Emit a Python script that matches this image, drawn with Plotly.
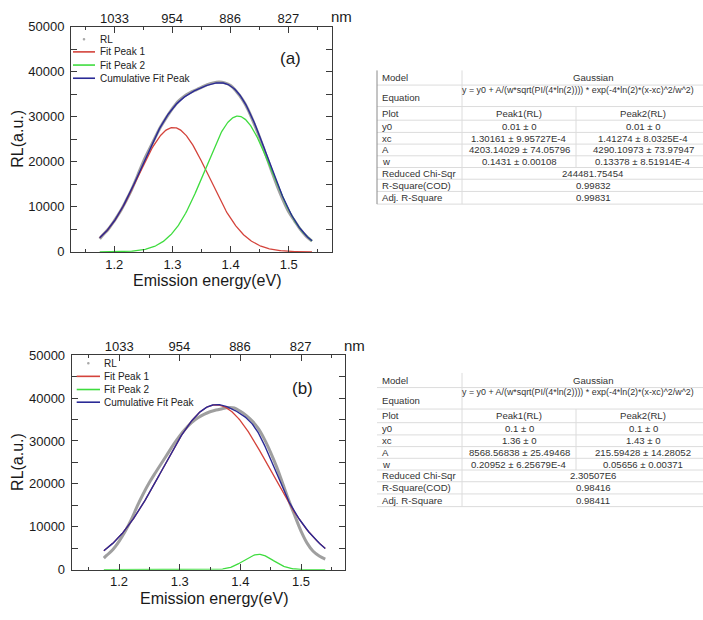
import numpy as np
import plotly.graph_objects as go

W, H = 703, 620
FONT = "Arial, 'Liberation Sans', sans-serif"

# ---------------- measured RL spectra ----------------
energy = [1.175, 1.18, 1.19, 1.20, 1.21, 1.22, 1.23, 1.24, 1.25, 1.26, 1.27, 1.28,
          1.29, 1.30, 1.31, 1.32, 1.33, 1.34, 1.35, 1.36, 1.37, 1.38, 1.39, 1.40,
          1.41, 1.42, 1.43, 1.44, 1.45, 1.46, 1.47, 1.48, 1.49, 1.50, 1.51, 1.52,
          1.53, 1.54]
rl_a = [2900, 3700, 5100, 6900, 8900, 11300, 13900, 16900, 20000, 22700, 25300, 27800,
        29900, 31800, 33400, 34500, 35300, 35900, 36500, 37100, 37500, 37700, 37500, 36900,
        35600, 33900, 31600, 28600, 25400, 21800, 18200, 14700, 11600, 8900, 6900, 5000,
        3500, 2400]
rl_b = [2700, 3400, 4700, 6600, 8900, 11600, 14800, 17700, 20300, 22600, 24800, 27000,
        29200, 31200, 32900, 34300, 35400, 36200, 36800, 37200, 37500, 37800, 37700, 36900,
        35900, 34600, 32800, 30300, 27300, 23900, 20000, 16100, 12500, 9000, 6200, 4300,
        3200, 2500]

# ---------------- Gaussian fit results (Peak1, Peak2) ----------------
fit_a_y0 = [0.01, 0.01]
fit_a_xc = [1.30161, 1.41274]
fit_a_A = [4203.14029, 4290.10973]
fit_a_w = [0.1431, 0.13378]

fit_b_y0 = [0.1, 0.1]
fit_b_xc = [1.36, 1.43]
fit_b_A = [8568.56838, 215.59428]
fit_b_w = [0.20952, 0.05656]

fit_range = [1.175, 1.54]

# axis tick labels
energy_ticks = [1.2, 1.3, 1.4, 1.5]
rl_ticks = [0, 10000, 20000, 30000, 40000, 50000]
nm_ticks = [1033, 954, 886, 827]

# ---------------- fit report tables ----------------
row_labels = ["Model", "Equation", "Plot", "y0", "xc", "A", "w",
              "Reduced Chi-Sqr", "R-Square(COD)", "Adj. R-Square"]
model_name = "Gaussian"
equation = "y = y0 + A/(w*sqrt(PI/(4*ln(2)))) * exp(-4*ln(2)*(x-xc)^2/w^2)"
plot_names = ["Peak1(RL)", "Peak2(RL)"]

table_a_params = [["0.01 ± 0", "0.01 ± 0"],
                  ["1.30161 ± 9.95727E-4", "1.41274 ± 8.0325E-4"],
                  ["4203.14029 ± 74.05796", "4290.10973 ± 73.97947"],
                  ["0.1431 ± 0.00108", "0.13378 ± 8.51914E-4"]]
table_a_stats = ["244481.75454", "0.99832", "0.99831"]

table_b_params = [["0.1 ± 0", "0.1 ± 0"],
                  ["1.36 ± 0", "1.43 ± 0"],
                  ["8568.56838 ± 25.49468", "215.59428 ± 14.28052"],
                  ["0.20952 ± 6.25679E-4", "0.05656 ± 0.00371"]]
table_b_stats = ["2.30507E6", "0.98416", "0.98411"]

# ---------------- styles ----------------
C_RL = "rgba(135,135,135,0.8)"
C_P1 = "#d4433b"
C_P2 = "#3fdc3f"
C_CUM = "#2a2a96"
AX = "#3a3a3a"


def px(x):
    return x / W


def py(y):
    return 1 - y / H


def gauss(x, y0, xc, A, w):
    return y0 + A / (w * np.sqrt(np.pi / (4 * np.log(2)))) * np.exp(-4 * np.log(2) * (x - xc) ** 2 / w ** 2)


fig = go.Figure()

panels = [
    dict(tag="(a)", rl=rl_a, y0=fit_a_y0, xc=fit_a_xc, A=fit_a_A, w=fit_a_w,
         xb="x", xt="x2", y="y",
         box=(71, 332, 20, 251), xr=[1.1256, 1.5744],
         leg=dict(x0=73, x1=95, tx=98, ys=[33, 46, 59.5, 73]),
         tag_pos=(290, 53)),
    dict(tag="(b)", rl=rl_b, y0=fit_b_y0, xc=fit_b_xc, A=fit_b_A, w=fit_b_w,
         xb="x3", xt="x4", y="y2",
         box=(71.7, 345, 356.7, 576.7), xr=[1.122, 1.5725],
         leg=dict(x0=76.7, x1=100, tx=102, ys=[365, 378.5, 392, 405]),
         tag_pos=(302, 391)),
]

xf = np.linspace(fit_range[0], fit_range[1], 300)

for p in panels:
    peak1 = gauss(xf, p["y0"][0], p["xc"][0], p["A"][0], p["w"][0])
    peak2 = gauss(xf, p["y0"][1], p["xc"][1], p["A"][1], p["w"][1])
    cumulative = peak1 + peak2 - p["y0"][1]
    common = dict(xaxis=p["xb"], yaxis=p["y"], showlegend=False, hoverinfo="skip")
    fig.add_trace(go.Scatter(x=energy, y=p["rl"], mode="lines", name="RL",
                             line=dict(color=C_RL, width=3, shape="spline"), **common))
    fig.add_trace(go.Scatter(x=xf, y=peak1, mode="lines", name="Fit Peak 1",
                             line=dict(color=C_P1, width=1.3), **common))
    fig.add_trace(go.Scatter(x=xf, y=peak2, mode="lines", name="Fit Peak 2",
                             line=dict(color=C_P2, width=1.3), **common))
    fig.add_trace(go.Scatter(x=xf, y=cumulative, mode="lines", name="Cumulative Fit Peak",
                             line=dict(color=C_CUM, width=1.4), **common))
    # carrier trace for the wavelength axis
    fig.add_trace(go.Scatter(x=[None], y=[None], xaxis=p["xt"], yaxis=p["y"],
                             showlegend=False, hoverinfo="skip"))

layout = dict(
    width=W, height=H, margin=dict(l=0, r=0, t=0, b=0),
    paper_bgcolor="white", plot_bgcolor="white",
    font=dict(family=FONT, color="#1a1a1a", size=13),
    showlegend=False,
)

shapes = []
annotations = []

for i, p in enumerate(panels):
    l, r, t, b = p["box"]
    xb_name = "xaxis" if p["xb"] == "x" else "xaxis" + p["xb"][1:]
    xt_name = "xaxis" + p["xt"][1:]
    y_name = "yaxis" if p["y"] == "y" else "yaxis" + p["y"][1:]
    layout[xb_name] = dict(
        domain=[px(l), px(r)], anchor=p["y"], range=p["xr"],
        tickvals=energy_ticks, ticktext=[f"{v:.1f}" for v in energy_ticks],
        ticks="inside", ticklen=6, tickwidth=1, tickcolor=AX,
        minor=dict(tickvals=[1.15, 1.25, 1.35, 1.45, 1.55], ticks="inside",
                   ticklen=3, tickcolor=AX),
        showline=True, linecolor=AX, linewidth=1, mirror="allticks",
        showgrid=False, zeroline=False, tickfont=dict(size=13),
    )
    layout[xt_name] = dict(
        overlaying=p["xb"], anchor=p["y"], side="top", range=p["xr"],
        tickvals=[1239.84 / n for n in nm_ticks], ticktext=[str(n) for n in nm_ticks],
        ticks="", showline=False, showgrid=False, zeroline=False,
        tickfont=dict(size=13),
    )
    layout[y_name] = dict(
        domain=[py(b), py(t)], anchor=p["xb"], range=[0, 50000],
        tickvals=rl_ticks, ticktext=[str(v) for v in rl_ticks],
        ticks="inside", ticklen=6, tickwidth=1, tickcolor=AX,
        minor=dict(dtick=5000, ticks="inside", ticklen=3, tickcolor=AX),
        showline=True, linecolor=AX, linewidth=1, mirror="allticks",
        showgrid=False, zeroline=False, tickfont=dict(size=13),
        ticklabelstandoff=3,
    )

    # axis titles
    annotations.append(dict(text="Emission energy(eV)", x=px((l + r) / 2 + 6), y=py(b + 29),
                            xref="paper", yref="paper", showarrow=False,
                            font=dict(size=16), xanchor="center", yanchor="middle"))
    annotations.append(dict(text="RL(a.u.)", x=px(17.5), y=py((t + b) / 2), textangle=-90,
                            xref="paper", yref="paper", showarrow=False,
                            font=dict(size=16), xanchor="center", yanchor="middle"))
    annotations.append(dict(text="nm", x=px(r - 3), y=py(t - 10),
                            xref="paper", yref="paper", showarrow=False,
                            font=dict(size=15), xanchor="left", yanchor="middle"))
    annotations.append(dict(text=p["tag"], x=px(p["tag_pos"][0]), y=py(p["tag_pos"][1]),
                            xref="paper", yref="paper", showarrow=False,
                            font=dict(size=17), xanchor="center", yanchor="middle"))

    # legend block
    lg = p["leg"]
    entries = [("RL", C_RL, "dot"), ("Fit Peak 1", C_P1, "line"),
               ("Fit Peak 2", C_P2, "line"), ("Cumulative Fit Peak", C_CUM, "line")]
    for (name, col, kind), yy in zip(entries, lg["ys"]):
        if kind == "line":
            shapes.append(dict(type="line", xref="paper", yref="paper",
                               x0=px(lg["x0"]), x1=px(lg["x1"]), y0=py(yy), y1=py(yy),
                               line=dict(color=col, width=1.6)))
        else:
            cx = (lg["x0"] + lg["x1"]) / 2
            shapes.append(dict(type="circle", xref="paper", yref="paper",
                               x0=px(cx - 1.3), x1=px(cx + 1.3), y0=py(yy + 1.3), y1=py(yy - 1.3),
                               fillcolor="#a8a8a8", line=dict(width=0)))
        annotations.append(dict(text=name, x=px(lg["tx"]), y=py(yy), xref="paper", yref="paper",
                                showarrow=False, font=dict(size=10, color="#222"),
                                xanchor="left", yanchor="middle"))

# ---------------- fit report tables ----------------
TF = dict(size=9.6, color="#333333")
TF_EQ = dict(size=8.9, color="#333333")
row_h = [15, 22, 14, 12.5, 12, 12, 12, 12, 12.5, 13]
col_x = [377, 462, 576, 724]
tables = [(65, table_a_params, table_a_stats, True), (375, table_b_params, table_b_stats, False)]

for top, params, stats, border in tables:
    edges = [top]
    for hgt in row_h:
        edges.append(edges[-1] + hgt)
    for e in edges[1:]:
        shapes.append(dict(type="line", xref="paper", yref="paper",
                           x0=px(col_x[0]), x1=px(W), y0=py(e), y1=py(e),
                           line=dict(color="#dcdcdc", width=1)))
    shapes.append(dict(type="line", xref="paper", yref="paper",
                       x0=px(col_x[1]), x1=px(col_x[1]), y0=py(top), y1=py(edges[-1]),
                       line=dict(color="#dcdcdc", width=1)))
    shapes.append(dict(type="line", xref="paper", yref="paper",
                       x0=px(col_x[2]), x1=px(col_x[2]), y0=py(edges[2]), y1=py(edges[7]),
                       line=dict(color="#dcdcdc", width=1)))
    if border:
        shapes.append(dict(type="line", xref="paper", yref="paper",
                           x0=px(col_x[0]), x1=px(col_x[0]), y0=py(top), y1=py(edges[-1]),
                           line=dict(color="#8a8a8a", width=1)))

    centers = [(edges[k] + edges[k + 1]) / 2 for k in range(len(row_h))]
    for k, lab in enumerate(row_labels):
        yy = centers[k] + (2 if k == 1 else 0)
        annotations.append(dict(text=lab, x=px(col_x[0] + 3), y=py(yy), xref="paper", yref="paper",
                                showarrow=False, font=TF, xanchor="left", yanchor="middle"))
    span_c = (col_x[1] + col_x[3]) / 2
    c1 = (col_x[1] + col_x[2]) / 2
    c2 = (col_x[2] + 710) / 2
    annotations.append(dict(text=model_name, x=px(span_c), y=py(centers[0]), xref="paper", yref="paper",
                            showarrow=False, font=TF, xanchor="center", yanchor="middle"))
    annotations.append(dict(text=equation, x=px(col_x[1] - 2), y=py(edges[1] + 5), xref="paper",
                            yref="paper", showarrow=False, font=TF_EQ, xanchor="left", yanchor="middle"))
    for j, name in enumerate(plot_names):
        annotations.append(dict(text=name, x=px([c1, c2][j]), y=py(centers[2]), xref="paper",
                                yref="paper", showarrow=False, font=TF, xanchor="center",
                                yanchor="middle"))
    for k, pair in enumerate(params):
        for j, val in enumerate(pair):
            annotations.append(dict(text=val, x=px([c1, c2][j]), y=py(centers[3 + k]), xref="paper",
                                    yref="paper", showarrow=False, font=TF, xanchor="center",
                                    yanchor="middle"))
    for k, val in enumerate(stats):
        annotations.append(dict(text=val, x=px(span_c), y=py(centers[7 + k]), xref="paper",
                                yref="paper", showarrow=False, font=TF, xanchor="center",
                                yanchor="middle"))

layout["shapes"] = shapes
layout["annotations"] = annotations
fig.update_layout(**layout)
fig.write_html("out.html")
